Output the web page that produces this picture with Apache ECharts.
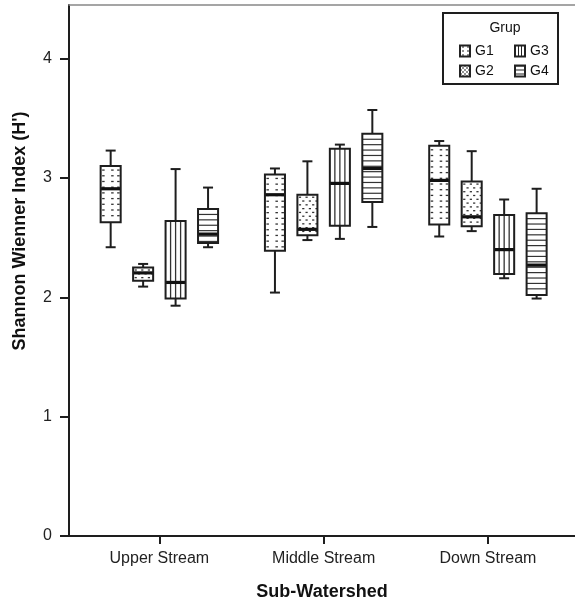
<!DOCTYPE html>
<html>
<head>
<meta charset="utf-8">
<script src="https://cdn.jsdelivr.net/npm/echarts@6/dist/echarts.min.js"></script>
<style>
  html, body { margin: 0; padding: 0; background: #fff; }
  #chart { width: 575px; height: 606px; }
</style>
</head>
<body>
<div id="chart"></div>
<script>
// sub-watersheds on the x axis
const categories = ['Upper Stream', 'Middle Stream', 'Down Stream']
const groups = ['G1', 'G2', 'G3', 'G4']
const yTicks = [0, 1, 2, 3, 4]

// [min, q1, median, q3, max] per sub-watershed
const g1 = [[2.42, 2.63, 2.91, 3.10, 3.23], [2.04, 2.39, 2.86, 3.03, 3.08], [2.51, 2.61, 2.98, 3.27, 3.31]]
const g2 = [[2.09, 2.14, 2.205, 2.25, 2.28], [2.48, 2.52, 2.57, 2.86, 3.14], [2.555, 2.595, 2.675, 2.97, 3.225]]
const g3 = [[1.93, 1.99, 2.125, 2.64, 3.075], [2.49, 2.60, 2.955, 3.245, 3.28], [2.16, 2.195, 2.40, 2.69, 2.82]]
const g4 = [[2.42, 2.455, 2.53, 2.74, 2.92], [2.59, 2.80, 3.08, 3.37, 3.57], [1.99, 2.02, 2.27, 2.705, 2.91]]
const groupData = [g1, g2, g3, g4]

const ink = '#1e1e1e'
const font = '"Liberation Sans", Arial, sans-serif'

// small tiles for the legend icons
const makeTile = (w, h, draw) => {
  const c = document.createElement('canvas')
  c.width = w
  c.height = h
  const ctx = c.getContext('2d')
  ctx.fillStyle = '#fff'
  ctx.fillRect(0, 0, w, h)
  ctx.fillStyle = '#222'
  draw(ctx)
  return { image: c, repeat: 'repeat' }
}
const tiles = [
  makeTile(5, 4, ctx => ctx.fillRect(2, 1, 2, 1)),
  makeTile(4, 4, ctx => { ctx.fillRect(0, 0, 2, 1); ctx.fillRect(2, 2, 2, 1) }),
  makeTile(3, 1, ctx => ctx.fillRect(0, 0, 1, 1)),
  makeTile(1, 4, ctx => ctx.fillRect(0, 0, 1, 1))
]

const line = (x1, y1, x2, y2, w, c) => ({
  type: 'line',
  shape: { x1, y1, x2, y2 },
  style: { stroke: c || ink, lineWidth: w }
})

// fill lines for each group's box
const patternLines = (gi, x, y, w, h) => {
  const out = []
  if (gi === 0) {
    for (let yy = y + 4; yy < y + h - 1; yy += 5.7) {
      [1.5, 10.5, 16.5].forEach(o => out.push(line(x + o, yy, x + o + 2.5, yy, 1.3, '#333')))
    }
  } else if (gi === 1) {
    let row = 0
    for (let yy = y + 2.5; yy < y + h - 1; yy += 3.8) {
      const shift = row % 2 ? 3.3 : 0
      for (let xx = x + 1.5 + shift; xx < x + w - 2; xx += 6.6) {
        out.push(line(xx, yy, xx + 2.2, yy, 1.3, '#333'))
      }
      row++
    }
  } else if (gi === 2) {
    [0.25, 0.5, 0.75].forEach(f => out.push(line(x + w * f, y, x + w * f, y + h, 1.3, '#333')))
  } else {
    for (let yy = y + 5.4; yy < y + h - 1.5; yy += 5.4) {
      out.push(line(x, yy, x + w, yy, 1.2, '#333'))
    }
  }
  return out
}

const renderBox = (params, api) => {
  const gi = params.seriesIndex
  const cat = api.value(0)
  const band = api.size([1, 0])[0]
  const cx = api.coord([cat, 0])[0] + (gi - 1.5) * band * 0.1976
  const bw = band * 0.122
  const cap = 10
  const yLo = api.coord([cat, api.value(1)])[1]
  const yQ1 = api.coord([cat, api.value(2)])[1]
  const yMed = api.coord([cat, api.value(3)])[1]
  const yQ3 = api.coord([cat, api.value(4)])[1]
  const yHi = api.coord([cat, api.value(5)])[1]
  const x0 = cx - bw / 2
  const children = [
    line(cx, yHi, cx, yQ3, 2),
    line(cx, yQ1, cx, yLo, 2),
    line(cx - cap / 2, yHi, cx + cap / 2, yHi, 2),
    line(cx - cap / 2, yLo, cx + cap / 2, yLo, 2),
    { type: 'rect', shape: { x: x0, y: yQ3, width: bw, height: yQ1 - yQ3 }, style: { fill: '#fff' } },
    ...patternLines(gi, x0, yQ3, bw, yQ1 - yQ3),
    line(x0, yMed, x0 + bw, yMed, 3.2, '#111'),
    { type: 'rect', shape: { x: x0, y: yQ3, width: bw, height: yQ1 - yQ3 }, style: { fill: null, stroke: ink, lineWidth: 2 } }
  ]
  return { type: 'group', children }
}

const chart = echarts.init(document.getElementById('chart'))
chart.setOption({
  animation: false,
  textStyle: { fontFamily: font },
  grid: { left: 69, right: 0, top: 5, bottom: 67 },
  xAxis: [{
    type: 'value',
    min: 0.45,
    max: 3.53,
    axisLine: { lineStyle: { color: ink, width: 2 } },
    axisTick: { customValues: [1, 2, 3], length: 8, lineStyle: { color: ink, width: 2 } },
    axisLabel: {
      customValues: [1, 2, 3],
      formatter: v => categories[Math.round(v) - 1],
      fontSize: 16,
      color: '#222',
      margin: 15
    },
    splitLine: { show: false },
    name: 'Sub-Watershed',
    nameLocation: 'middle',
    nameGap: 47,
    nameTextStyle: { fontSize: 18, fontWeight: 'bold', color: '#111' }
  }, {
    type: 'value',
    position: 'top',
    min: 0.45,
    max: 3.53,
    axisLine: { show: true, lineStyle: { color: '#888', width: 1.5 } },
    axisTick: { show: false },
    axisLabel: { show: false },
    splitLine: { show: false }
  }],
  yAxis: {
    type: 'value',
    min: 0,
    max: 4.45,
    axisLine: { show: true, lineStyle: { color: ink, width: 2 } },
    axisTick: { show: true, customValues: yTicks, length: 9, lineStyle: { color: ink, width: 2 } },
    axisLabel: { customValues: yTicks, fontSize: 16, color: '#222', margin: 17 },
    splitLine: { show: false }
  },
  legend: [{
    data: ['G1', 'G2'],
    orient: 'vertical',
    left: 459,
    top: 44,
    padding: 0,
    itemWidth: 10,
    itemHeight: 11,
    itemGap: 6,
    icon: 'rect',
    selectedMode: false,
    textStyle: { fontSize: 14, color: '#111', lineHeight: 14 }
  }, {
    data: ['G3', 'G4'],
    orient: 'vertical',
    left: 514,
    top: 44,
    padding: 0,
    itemWidth: 10,
    itemHeight: 11,
    itemGap: 6,
    icon: 'rect',
    selectedMode: false,
    textStyle: { fontSize: 14, color: '#111', lineHeight: 14 }
  }],
  graphic: [
    { type: 'rect', z: 0, shape: { x: 443, y: 13, width: 115, height: 71 }, style: { fill: '#fff', stroke: ink, lineWidth: 2 } },
    { type: 'text', z: 1, x: 505, y: 28, style: { text: 'Grup', font: '14px ' + font, fill: '#111', align: 'center', verticalAlign: 'middle' } },
    { type: 'text', z: 1, x: 20, y: 231, rotation: Math.PI / 2, style: { text: "Shannon Wienner Index (H')", font: 'bold 18px ' + font, fill: '#111', align: 'center', verticalAlign: 'middle' } }
  ],
  series: groups.map((name, gi) => ({
    name,
    type: 'custom',
    renderItem: renderBox,
    itemStyle: { color: tiles[gi], borderColor: '#222', borderWidth: 1.5 },
    encode: { x: 0, y: [1, 2, 3, 4, 5] },
    data: groupData[gi].map((v, i) => [i + 1, ...v])
  }))
})
</script>
</body>
</html>
